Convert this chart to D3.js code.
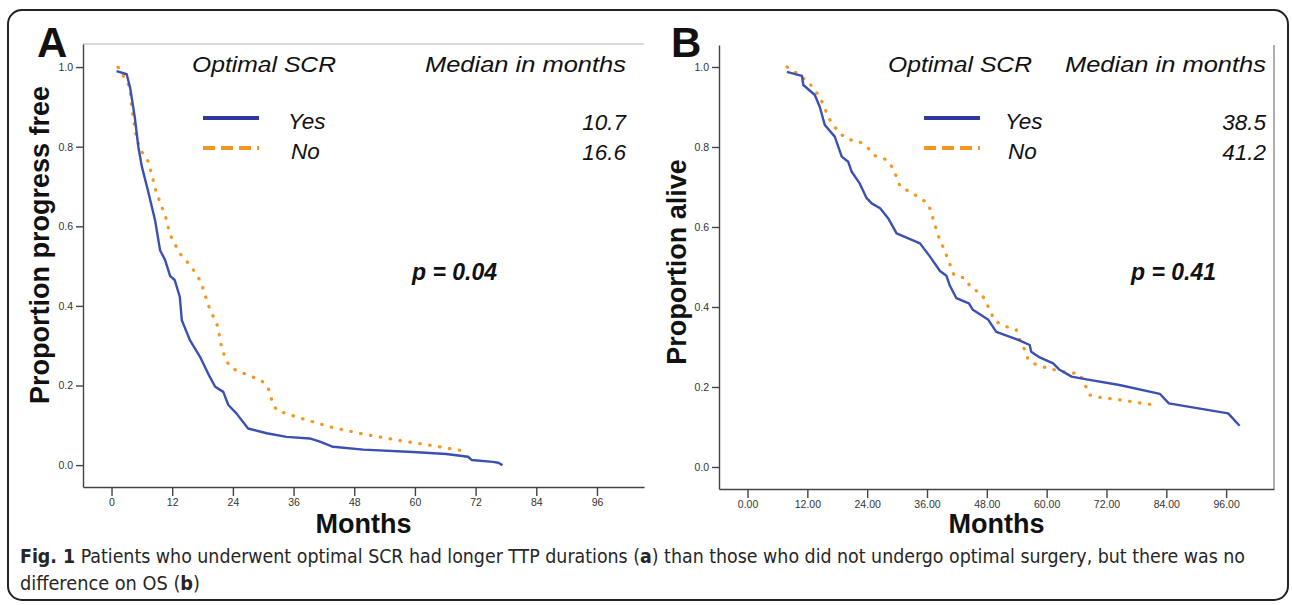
<!DOCTYPE html>
<meta charset="utf-8">
<style>
  body { margin: 0; background: #fff; }
  .tick text { font: 10.5px "Liberation Sans", Arial, sans-serif; fill: #333; }
  .tick line, .domain { stroke: #444; stroke-width: 1.4px; }
  .km-yes { fill: none; stroke: #3b50b3; stroke-width: 2.4px; stroke-linejoin: round; }
  .km-no { fill: none; stroke: #f7961f; stroke-width: 3.2px; stroke-linecap: round; stroke-dasharray: 0.5,9.5; }
  .lab { font-family: "Liberation Sans", Arial, sans-serif; fill: #111; }
</style>
<body>
<script src="https://d3js.org/d3.v7.min.js"></script>
<script>
// tick labels
var monthTicks = [0, 12, 24, 36, 48, 60, 72, 84, 96];
var monthLabelsA = ["0", "12", "24", "36", "48", "60", "72", "84", "96"];
var monthLabelsB = ["0.00", "12.00", "24.00", "36.00", "48.00", "60.00", "72.00", "84.00", "96.00"];
var propTicks = [0, 0.2, 0.4, 0.6, 0.8, 1.0];

// legend groups and medians
var groups = ["Yes", "No"];
var mediansA = ["10.7", "16.6"];
var mediansB = ["38.5", "41.2"];

// panel A: time to progression, [month, proportion]
var ttpYes = [[1,0.99],[3,0.982],[3.7,0.947],[4.6,0.874],[5.3,0.80],[6,0.75],[7.2,0.69],[8.6,0.616],
  [9.6,0.54],[10.6,0.515],[11.6,0.475],[12.5,0.465],[13.5,0.423],[13.9,0.364],[15.5,0.314],[17.5,0.272],
  [19.1,0.23],[20.5,0.197],[22.1,0.184],[23.1,0.151],[24.7,0.13],[27,0.092],[30.7,0.08],[34.6,0.071],
  [39.2,0.067],[41.2,0.059],[43.8,0.046],[49.8,0.039],[59.6,0.033],[66.2,0.028],[70.5,0.021],
  [71.2,0.013],[75.4,0.008],[76.5,0.006],[77.3,0.0]];
var ttpNo = [[1.3,1.0],[3.6,0.95],[4,0.897],[5,0.817],[6,0.787],[7.3,0.762],[8.9,0.683],[10.6,0.628],
  [11.6,0.578],[13.5,0.532],[15.2,0.507],[16.8,0.48],[17.8,0.456],[18.5,0.427],[19.5,0.389],[20.8,0.356],
  [21.4,0.322],[21.8,0.293],[22.8,0.26],[23.8,0.243],[27.4,0.224],[29.7,0.212],[31,0.193],[31.7,0.163],
  [32.6,0.138],[36.6,0.121],[43.2,0.096],[49.8,0.078],[56.4,0.063],[62.9,0.05],[69.5,0.036]];

// panel B: overall survival, [month, proportion]
var osYes = [[7.9,0.988],[10.9,0.978],[11.2,0.955],[13.5,0.93],[14.5,0.9],[15.5,0.855],[17.5,0.826],
  [18.9,0.776],[20.2,0.763],[20.9,0.738],[22.5,0.709],[23.9,0.672],[24.9,0.659],[26.6,0.647],[28.2,0.622],
  [29.9,0.584],[34.6,0.559],[36.6,0.526],[38.6,0.49],[39.9,0.478],[40.6,0.453],[41.9,0.422],[44.4,0.409],
  [45.2,0.393],[48.3,0.368],[49.9,0.338],[54.3,0.318],[56.6,0.305],[56.9,0.288],[58.6,0.274],[61.3,0.259],
  [62.6,0.243],[65,0.226],[68,0.219],[74.6,0.205],[82.7,0.183],[84.5,0.159],[96.4,0.134],[98.7,0.103]];
var osNo = [[7.9,1.0],[9.9,0.984],[12.2,0.963],[14.2,0.93],[15.5,0.9],[15.9,0.88],[17.2,0.855],[18.5,0.834],
  [20.2,0.819],[22.5,0.813],[24.2,0.797],[25.6,0.778],[27.9,0.768],[29.2,0.747],[30.6,0.701],[32.6,0.688],
  [34.6,0.672],[36.2,0.659],[36.9,0.634],[37.6,0.605],[38.2,0.58],[39.2,0.551],[40.2,0.52],[41.4,0.48],
  [43.6,0.472],[44.9,0.447],[46.9,0.434],[48.1,0.405],[49.6,0.365],[51.9,0.351],[53.9,0.343],[54.6,0.318],
  [55.6,0.293],[56.3,0.268],[58,0.255],[60.3,0.247],[63.3,0.238],[66.6,0.233],[67.6,0.209],[68.6,0.18],
  [70.6,0.174],[74.6,0.168],[79.3,0.159],[81.7,0.155]];

var W = 1292, H = 605;
var svg = d3.select("body").append("svg")
    .attr("width", W)
    .attr("height", H);

// outer rounded frame
svg.append("rect")
    .attr("x", 8).attr("y", 10)
    .attr("width", 1280).attr("height", 590)
    .attr("rx", 14)
    .attr("fill", "none")
    .attr("stroke", "#222")
    .attr("stroke-width", 2);

function drawPanel(p) {
  var x = d3.scaleLinear().domain(p.xDomain).range([p.left, p.right]);
  var y = d3.scaleLinear().domain(p.yDomain).range([p.bottom, p.top]);
  var g = svg.append("g");

  // extra frame line (top for A, right for B)
  if (p.frame == "top") {
    g.append("line").attr("x1", p.left).attr("x2", p.right).attr("y1", p.top).attr("y2", p.top)
        .attr("stroke", "#b5b5b5").attr("stroke-width", 1.2);
  } else {
    g.append("line").attr("x1", p.right).attr("x2", p.right).attr("y1", p.top).attr("y2", p.bottom)
        .attr("stroke", "#777").attr("stroke-width", 1.2);
  }

  g.append("g")
      .attr("transform", "translate(0," + p.bottom + ")")
      .call(d3.axisBottom(x).tickValues(monthTicks).tickSize(9).tickSizeOuter(0).tickPadding(3)
        .tickFormat(function(d, i) { return p.xLabels[i]; }));
  g.append("g")
      .attr("transform", "translate(" + p.left + ",0)")
      .call(d3.axisLeft(y).tickValues(propTicks).tickSize(7).tickSizeOuter(0).tickPadding(3)
        .tickFormat(d3.format(".1f")));

  var line = d3.line()
      .x(function(d) { return x(d[0]); })
      .y(function(d) { return y(d[1]); });
  g.append("path").datum(p.no).attr("class", "km-no").attr("d", line);
  g.append("path").datum(p.yes).attr("class", "km-yes").attr("d", line);

  // titles
  g.append("text").attr("class", "lab")
      .attr("x", p.letterX).attr("y", 57)
      .style("font-size", "42px").style("font-weight", "bold")
      .text(p.letter);
  g.append("text").attr("class", "lab")
      .attr("text-anchor", "middle")
      .attr("x", (p.left + p.right) / 2).attr("y", 533)
      .style("font-size", "27px").style("font-weight", "bold")
      .text("Months");
  g.append("text").attr("class", "lab")
      .attr("text-anchor", "middle")
      .attr("transform", "translate(" + p.yTitleX + "," + p.yTitleY + ") rotate(-90)")
      .style("font-size", "27px").style("font-weight", "bold")
      .text(p.yTitle);

  // legend
  var it = function(sel) { return sel.attr("class", "lab").style("font-size", "22.5px").style("font-style", "italic"); };
  g.append("text").call(it).attr("x", p.legX).attr("y", 72)
      .attr("textLength", 144).attr("lengthAdjust", "spacingAndGlyphs").text("Optimal SCR");
  g.append("text").call(it).attr("x", p.medX - 201).attr("y", 72)
      .attr("textLength", 201).attr("lengthAdjust", "spacingAndGlyphs").text("Median in months");
  var rows = [118, 148];
  groups.forEach(function(name, i) {
    g.append("line")
        .attr("x1", p.swX).attr("x2", p.swX + 56)
        .attr("y1", rows[i]).attr("y2", rows[i])
        .attr("stroke", i == 0 ? "#2d3a9c" : "#f7961f")
        .attr("stroke-width", 4)
        .attr("stroke-dasharray", i == 0 ? null : "12,6");
    g.append("text").call(it).attr("x", p.nameX[i]).attr("y", rows[i] + 11).text(name);
    g.append("text").call(it).attr("x", p.medX).attr("y", rows[i] + 12)
        .attr("text-anchor", "end").text(p.medians[i]);
  });
  g.append("text").attr("class", "lab")
      .attr("x", p.pX).attr("y", 280)
      .style("font-size", "23px").style("font-weight", "bold").style("font-style", "italic")
      .text(p.pText);
}

drawPanel({
  left: 83, right: 644, top: 44, bottom: 487,
  xDomain: [-5.64, 105.3], yDomain: [-0.055, 1.058],
  xLabels: monthLabelsA, yes: ttpYes, no: ttpNo, frame: "top",
  letter: "A", letterX: 37, yTitle: "Proportion progress free", yTitleX: 49, yTitleY: 245,
  legX: 192, medX: 626, swX: 203, nameX: [288, 291], medians: mediansA,
  pX: 412, pText: "p = 0.04"
});
drawPanel({
  left: 719, right: 1274, top: 45, bottom: 489,
  xDomain: [-5.72, 105.6], yDomain: [-0.055, 1.055],
  xLabels: monthLabelsB, yes: osYes, no: osNo, frame: "right",
  letter: "B", letterX: 671, yTitle: "Proportion alive", yTitleX: 686, yTitleY: 262,
  legX: 888, medX: 1266, swX: 924, nameX: [1005, 1008], medians: mediansB,
  pX: 1131, pText: "p = 0.41"
});

// caption
var cap = svg.append("g")
    .style("font-family", "'Liberation Sans Narrow', 'DejaVu Sans Condensed', 'Open Sans', sans-serif")
    .style("font-size", "19px")
    .attr("fill", "#262626");
var l1 = cap.append("text").attr("x", 20).attr("y", 563)
    .attr("textLength", 1225).attr("lengthAdjust", "spacingAndGlyphs");
l1.append("tspan").style("font-weight", "bold").text("Fig. 1");
l1.append("tspan").text(" Patients who underwent optimal SCR had longer TTP durations (");
l1.append("tspan").style("font-weight", "bold").text("a");
l1.append("tspan").text(") than those who did not undergo optimal surgery, but there was no");
var l2 = cap.append("text").attr("x", 20).attr("y", 590)
    .attr("textLength", 180).attr("lengthAdjust", "spacingAndGlyphs");
l2.append("tspan").text("difference on OS (");
l2.append("tspan").style("font-weight", "bold").text("b");
l2.append("tspan").text(")");
</script>
</body>
